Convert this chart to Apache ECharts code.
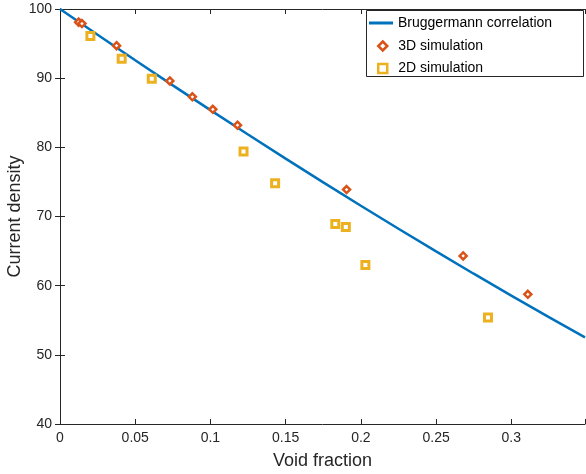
<!DOCTYPE html>
<html><head><meta charset="utf-8">
<script src="https://cdn.jsdelivr.net/npm/echarts@6/dist/echarts.min.js"></script>
<style>html,body{margin:0;padding:0;background:#fff}#c{width:586px;height:474px}</style>
</head><body><div id="c"></div>
<script>
const corrX = [0, 0.025, 0.05, 0.075, 0.1, 0.125, 0.15, 0.175, 0.2, 0.225, 0.25, 0.275, 0.3, 0.325, 0.349];
const corrY = [100, 96.27, 92.59, 88.96, 85.38, 81.85, 78.37, 74.93, 71.55, 68.23, 64.95, 61.73, 58.57, 55.46, 52.53];
const sim3dX = [0.0124, 0.0146, 0.0376, 0.073, 0.088, 0.1016, 0.118, 0.1905, 0.268, 0.311];
const sim3dY = [98.1, 97.9, 94.7, 89.6, 87.3, 85.5, 83.2, 73.9, 64.3, 58.75];
const sim2dX = [0.0202, 0.041, 0.061, 0.122, 0.143, 0.183, 0.190, 0.203, 0.2845];
const sim2dY = [96.1, 92.8, 89.9, 79.4, 74.8, 68.9, 68.5, 63.0, 55.4];
const xTicks = [0, 0.05, 0.1, 0.15, 0.2, 0.25, 0.3];
const yTicks = [40, 50, 60, 70, 80, 90, 100];

const zip = (a, b) => a.map((v, i) => [v, b[i]]);
const font = 'Liberation Sans, Arial, sans-serif';
const axCol = '#262626';
const chart = echarts.init(document.getElementById('c'));
const baseX = {
  type: 'value', min: 0, max: 0.349, interval: 0.05,
  axisLine: {lineStyle: {color: axCol, width: 1}},
  axisTick: {inside: true, length: 5, lineStyle: {color: axCol}},
  splitLine: {show: false}
};
const baseY = {
  type: 'value', min: 40, max: 100, interval: 10,
  axisLine: {lineStyle: {color: axCol, width: 1}},
  axisTick: {inside: true, length: 5, lineStyle: {color: axCol}},
  splitLine: {show: false}
};
const legendText = {fontFamily: font, fontSize: 14, color: '#000'};
chart.setOption({
  animation: false,
  backgroundColor: '#fff',
  grid: {left: 60, top: 9, right: 1, bottom: 50, containLabel: false, outerBoundsMode: 'none'},
  graphic: [{
    type: 'rect', left: 366, top: 10, z: 10,
    shape: {width: 217, height: 66},
    style: {fill: '#fff', stroke: '#262626', lineWidth: 1}
  }],
  legend: [
    {
      orient: 'vertical', left: 366, top: 10, z: 20,
      padding: [6, 3, 0, 3], itemWidth: 24, itemHeight: 3,
      textStyle: legendText,
      data: [{name: 'Bruggermann correlation', icon: 'rect'}]
    },
    {
      orient: 'vertical', left: 377, top: 39, z: 20,
      padding: [0, 0, 0, 0], itemGap: 8.5, itemWidth: 9, itemHeight: 9,
      textStyle: Object.assign({padding: [0, 0, 0, 6]}, legendText),
      itemStyle: {borderWidth: 2.5},
      data: ['3D simulation', '2D simulation']
    }
  ],
  xAxis: [
    Object.assign({}, baseX, {
      position: 'bottom',
      name: 'Void fraction', nameLocation: 'middle', nameGap: 28,
      nameTextStyle: {fontFamily: font, fontSize: 18, color: axCol},
      axisLabel: {fontFamily: font, fontSize: 14, color: axCol, margin: 7,
        formatter: v => xTicks.indexOf(Math.round(v*1000)/1000) >= 0 ? String(Math.round(v*1000)/1000) : ''}
    }),
    Object.assign({}, baseX, {position: 'top', axisLabel: {show: false}})
  ],
  yAxis: [
    Object.assign({}, baseY, {
      position: 'left',
      name: 'Current density', nameLocation: 'middle', nameGap: 36, nameMoveOverlap: false,
      nameTextStyle: {fontFamily: font, fontSize: 18, color: axCol},
      axisLabel: {fontFamily: font, fontSize: 14, color: axCol, margin: 8,
        formatter: v => yTicks.indexOf(v) >= 0 ? String(v) : ''}
    }),
    Object.assign({}, baseY, {position: 'right', axisLabel: {show: false}})
  ],
  series: [
    {
      name: 'Bruggermann correlation', type: 'line', data: zip(corrX, corrY),
      symbol: 'none', smooth: false,
      lineStyle: {color: '#0072BD', width: 2.5}, itemStyle: {color: '#0072BD'}, z: 2
    },
    {
      name: '3D simulation', type: 'scatter', data: zip(sim3dX, sim3dY),
      symbol: 'diamond', symbolSize: 7,
      itemStyle: {color: '#fff', borderColor: '#D95319', borderWidth: 2.5, opacity: 1}, z: 3
    },
    {
      name: '2D simulation', type: 'scatter', data: zip(sim2dX, sim2dY),
      symbol: 'rect', symbolSize: 7,
      itemStyle: {color: '#fff', borderColor: '#EDB120', borderWidth: 3, opacity: 1}, z: 3
    }
  ]
});
</script></body></html>
